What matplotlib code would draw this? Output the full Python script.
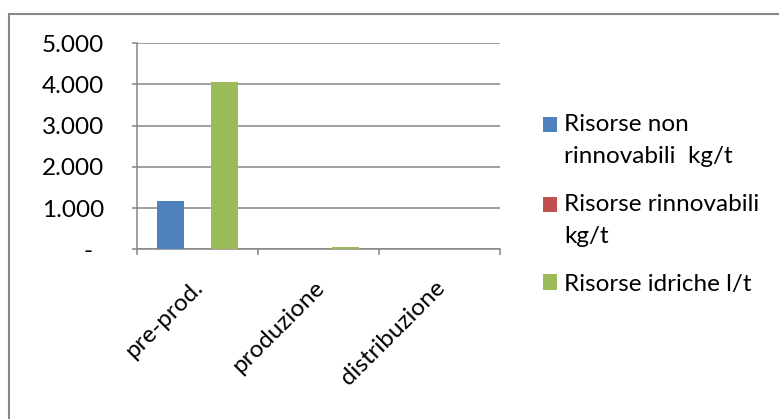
import matplotlib
matplotlib.use("Agg")
import matplotlib.pyplot as plt
from matplotlib.patches import Rectangle
from matplotlib.transforms import ScaledTranslation
from matplotlib.legend_handler import HandlerPatch
import numpy as np

plt.rcParams['font.family'] = ['Lato', 'DejaVu Sans']

categories = ["pre-prod.", "produzione", "distribuzione"]
series_names = ["Risorse non\nrinnovabili  kg/t", "Risorse rinnovabili\nkg/t", "Risorse idriche l/t"]
non_rinnovabili = [1165, 0, 0]
rinnovabili = [0, 0, 0]
idriche = [4070, 55, 0]
y_ticks = [0, 1000, 2000, 3000, 4000, 5000]
y_tick_labels = ["-", "1.000", "2.000", "3.000", "4.000", "5.000"]
colors = ["#4F81BD", "#C0504D", "#9BBB59"]

W, H = 779, 419
FS = 17.5
LINESPACING = 1.65
fig = plt.figure(figsize=(W / 100, H / 100), dpi=100)

# outer chart-area border
fig.patches.append(Rectangle((8.5 / W, -0.1), 1.2, 1 - 14.5 / H + 0.1,
                             transform=fig.transFigure, fill=False,
                             edgecolor="#878787", linewidth=1.5))

ax = fig.add_axes([137 / W, 1 - 249.3 / H, (500 - 137) / W, (249.3 - 43.3) / H])
x = np.arange(len(categories))
bw = 1 / 4.5
containers = []
for i, (vals, c) in enumerate(zip([non_rinnovabili, rinnovabili, idriche], colors)):
    containers.append(ax.bar(x + (i - 1) * bw, vals, width=bw, color=c, zorder=3))

ax.set_xlim(-0.5, len(categories) - 0.5)
ax.set_ylim(0, 5000)
ax.set_yticks(y_ticks)
ax.set_yticklabels(y_tick_labels)
ax.grid(axis="y", color="#868686", linewidth=1.1, zorder=0)
for s in ["top", "right"]:
    ax.spines[s].set_visible(False)
for s in ["left", "bottom"]:
    ax.spines[s].set_color("#868686")
    ax.spines[s].set_linewidth(1.1)

ax.tick_params(axis="y", length=3.6, color="#868686", width=1.1, pad=20, labelsize=FS)
ax.set_xticks(np.arange(len(categories) + 1) - 0.5, minor=True)
ax.set_xticks(x)
ax.tick_params(axis="x", which="minor", length=4.3, color="#868686", width=1.1)
ax.tick_params(axis="x", which="major", length=0, pad=25, labelsize=FS)
ax.set_xticklabels(categories, rotation=45, ha="right", va="center", rotation_mode="anchor")
for lab in ax.get_xticklabels():
    lab.set_transform(lab.get_transform() + ScaledTranslation(2 / 100, 0, fig.dpi_scale_trans))

zero = ax.get_yticklabels()[0]
zero.set_transform(zero.get_transform() + ScaledTranslation(-12 / 100, 0, fig.dpi_scale_trans))


# legend keys sit on the first line of multi-line labels
def first_line_handler(n_lines):
    shift = (n_lines - 1) * 0.5 * 23.0  # points

    def make_patch(legend, orig_handle, xdescent, ydescent, width, height, fontsize):
        return Rectangle((-xdescent, -ydescent + shift), width, height)
    return HandlerPatch(patch_func=make_patch)


handles = [bc.patches[0] for bc in containers]
handler_map = {h: first_line_handler(name.count("\n") + 1) for h, name in zip(handles, series_names)}
leg = ax.legend(handles, series_names, handler_map=handler_map,
                loc="upper left", bbox_to_anchor=(543 / W, 1 - 114 / H), bbox_transform=fig.transFigure,
                frameon=False, fontsize=FS, handlelength=0.58, handleheight=0.58, handletextpad=0.3,
                labelspacing=1.1, borderaxespad=0, borderpad=0)
for t in leg.get_texts():
    t.set_linespacing(LINESPACING)

fig.savefig("out.png", dpi=100)
